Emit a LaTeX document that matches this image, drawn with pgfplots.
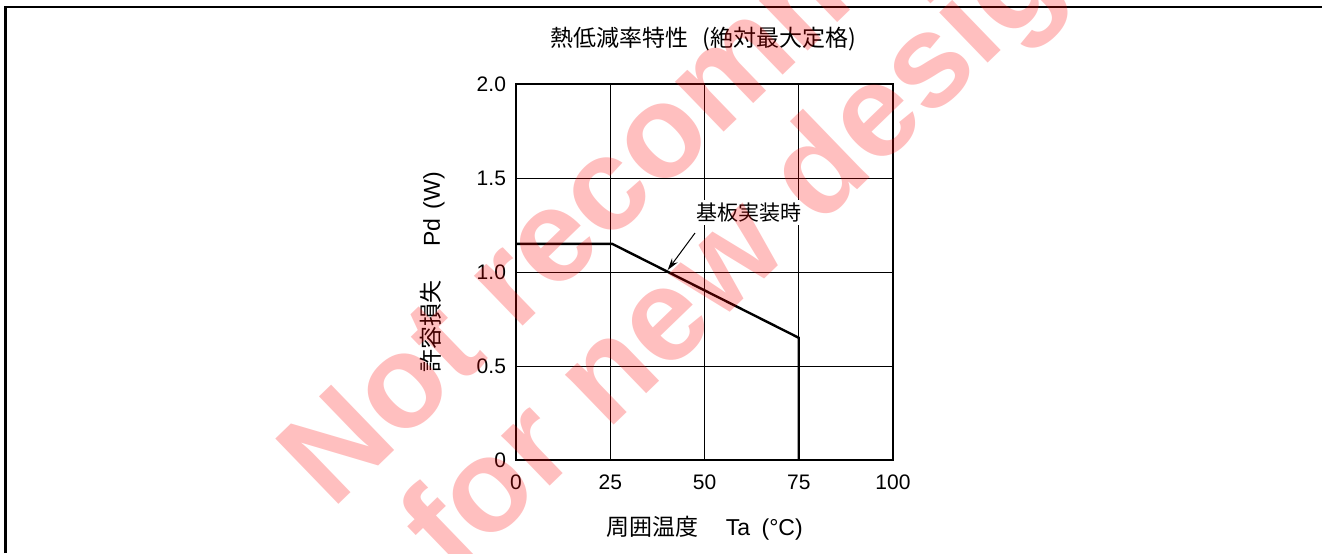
\documentclass[border=0pt]{standalone}
\usepackage{fontspec}
\setmainfont{Liberation Sans}
\newfontfamily\jp{Noto Sans CJK JP}
\newfontfamily\wm{Liberation Sans}
\usepackage{pgfplots}
\pgfplotsset{compat=1.18}
\usetikzlibrary{arrows.meta}

\begin{document}
\begin{tikzpicture}
\path[use as bounding box] (0,0) rectangle (661pt,276.5pt);
\draw[line width=1.25pt] (2.65pt,0) -- (2.65pt,273pt) -- (661pt,273pt);
\begin{axis}[
  at={(258pt,46.5pt)}, anchor=south west,
  scale only axis, width=188.5pt, height=188pt,
  xmin=0, xmax=100, ymin=0, ymax=2,
  xtick={0,25,50,75,100}, ytick={0,0.5,1,1.5,2},
  xticklabels={0,25,50,75,100},
  yticklabels={0,0.5,1.0,1.5,2.0},
  /pgf/number format/assume math mode=true,
  grid=major, major grid style={black, line width=0.45pt},
  axis line style={line width=0.75pt},
  major tick length=0pt,
  tick label style={font=\fontsize{10.5}{12}\selectfont},
  x tick label style={yshift=-4pt},
  y tick label style={xshift=-1.5pt},
  every axis title shift=0pt,
  title={{\jp 熱低減率特性}\hspace{0.6em}{\jp (絶対最大定格)}},
  title style={at={(axis description cs:0.497,1.1197)}, anchor=center, font=\fontsize{11.5}{13}\selectfont},
  xlabel={{\jp 周囲温度}\hspace{1.2em}Ta\hspace{0.5em}(°C)},
  xlabel style={at={(axis description cs:0.5,-0.181)}, anchor=center, font=\fontsize{11.5}{13}\selectfont},
  ylabel={{\jp 許容損失}\hspace{1.5em}Pd\hspace{0.4em}(W)},
  ylabel style={at={(axis description cs:-0.2215,0.4987)}, anchor=center, font=\fontsize{11.5}{13}\selectfont},
]
\addplot[black, line width=1.2pt, line join=miter] coordinates {(0,1.15) (25.5,1.15) (75,0.65) (75,0)};
\node[fill=white, inner sep=1.5pt, font=\jp\fontsize{10.5}{12}\selectfont] at (axis cs:61.67,1.3165) {基板実装時};
\draw[-{Stealth[length=6pt,width=3.5pt]}, line width=0.5pt] (axis cs:47.48,1.2074) -- (axis cs:40.24,1.0106);
\end{axis}
\begin{scope}
\clip (0,0) rectangle (661pt,276.5pt);
\tikzset{wmark/.style={anchor=base west, rotate=44, inner sep=0pt, text=red, text opacity=0.25, font=\wm\bfseries\fontsize{66}{72}\selectfont}}
\node[wmark] at (166pt,21pt) {Not recommended};
\node[wmark] at (227pt,-13pt) {for new designs};
\end{scope}
\end{tikzpicture}
\end{document}
